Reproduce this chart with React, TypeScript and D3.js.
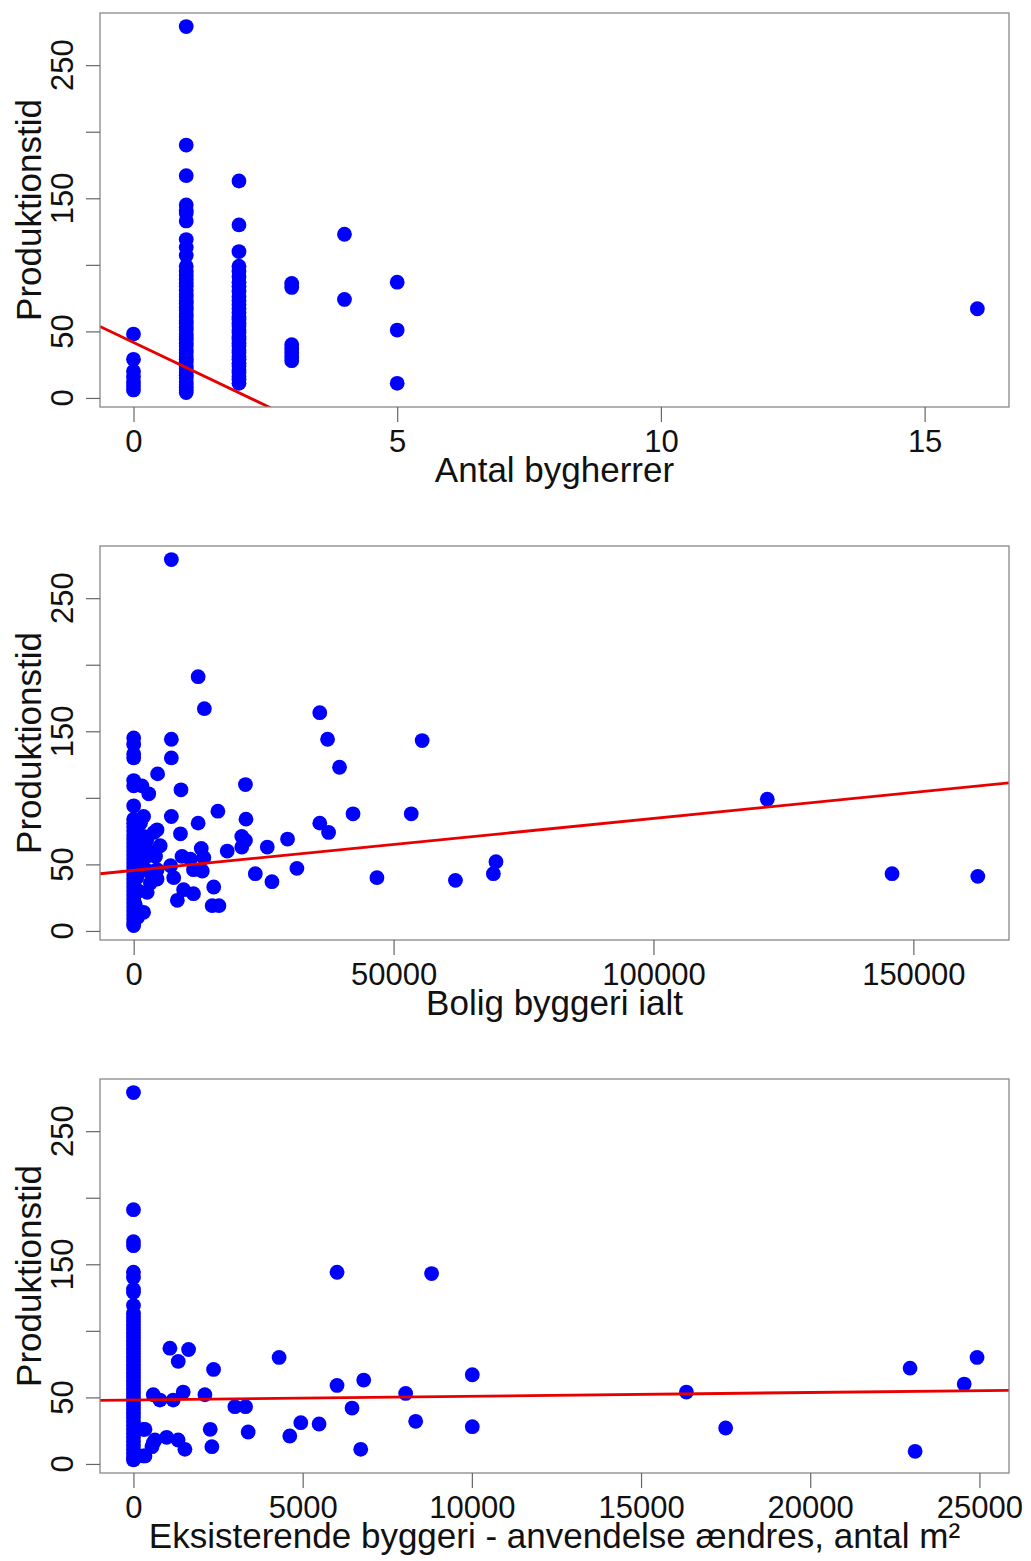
import React, { useEffect, useRef } from 'react';
import * as d3 from 'd3';

// shared y axis (Produktionstid)
const yTicks = [0, 50, 100, 150, 200, 250];
const yTickLabels = [0, 50, 150, 250];

// panel 1: Antal bygherrer
const bygX = [
  0, 0, 0, 0, 0, 0, 0,
  1, 1, 1, 1, 1, 1, 1, 1, 1, 1, 1, 1, 1, 1, 1, 1, 1, 1, 1, 1, 1, 1, 1, 1, 1, 1, 1, 1, 1, 1, 1, 1, 1, 1, 1, 1, 1, 1, 1, 1, 1, 1, 1, 1, 1, 1, 1, 1, 1,
  2, 2, 2, 2, 2, 2, 2, 2, 2, 2, 2, 2, 2, 2, 2, 2, 2, 2, 2, 2, 2, 2, 2, 2, 2, 2, 2, 2, 2, 2, 2, 2, 2, 2, 2,
  3, 3, 3, 3, 3, 3, 3,
  4, 4,
  5, 5, 5,
  16,
];
const bygY = [
  48, 29, 20, 16, 12, 9, 6,
  279, 190, 167, 145, 141, 139, 133, 119, 113, 107, 99, 95, 92, 89, 86, 84, 81, 78, 76, 73, 71, 68, 66, 63, 61, 58, 56, 53, 51, 48, 46, 44, 41, 39, 36, 34, 31, 29, 27, 24, 22, 19, 17, 15, 12, 10, 8, 6, 4,
  163, 130, 110, 99, 95, 91, 87, 84, 80, 76, 73, 70, 67, 64, 61, 59, 56, 54, 51, 49, 46, 44, 41, 39, 36, 34, 31, 29, 26, 24, 21, 19, 16, 14, 11,
  86, 83, 40, 37, 34, 31, 28,
  123, 74,
  87, 51, 11,
  67,
];

// panel 2: Bolig byggeri ialt
const boligX = [
  0, 0, 0, 0, 0, 0, 0, 0, 0, 0, 0, 0, 0, 0, 0, 0, 0, 0, 0, 0, 0, 0, 0, 0, 0, 0, 0, 0, 0, 0, 0, 0, 0, 0, 0,
  7250, 12400, 13600, 35800, 37300, 55500, 7250, 7250, 4600, 9100, 1600, 2900, 39600, 21500, 16200, 7250,
  21600, 42200, 53400, 12400, 35800, 37500, 9000, 29600, 20800, 21500, 20800, 25700, 18000, 13000, 3900,
  1900, 1300, 4500, 5100, 1900, 4200, 9300, 10900, 13500, 11500, 13200, 7100, 4500, 7700, 3200, 2600,
  9600, 11500, 8400, 15400, 15100, 16400, 1900, 23400, 4500, 31400, 26600, 46800, 61900, 69700, 69200,
  121900, 145900, 162400, 800, 1200, 600, 900, 1500, 2200, 2800, 300, 700, 3000, 2500,
];
const boligY = [
  145, 140, 133, 130, 113, 109, 94, 84, 81, 78, 75, 72, 69, 66, 63, 60, 57, 54, 51, 48, 45, 42, 39, 36, 33, 30, 27, 24, 21, 18, 15, 12, 9, 6, 4,
  279, 191, 167, 164, 144, 143, 144, 130, 118, 106, 109, 103, 123, 110, 90, 86,
  84, 88, 88, 81, 81, 74, 73, 69, 71, 68, 63, 63, 60, 62, 74,
  86, 81, 76, 64, 71, 56, 56, 54, 55, 46, 45, 49, 46, 40, 36, 29,
  31, 28, 23, 33, 19, 19, 14, 43, 39, 47, 37, 40, 38, 52, 43,
  99, 43, 41, 60, 50, 40, 30, 65, 55, 45, 20, 10, 60, 68,
];

// panel 3: Eksisterende byggeri - anvendelse ændres
const eksX = [
  0, 0, 0, 0, 0, 0, 0, 0, 0, 0, 0, 0, 0, 0, 0, 0, 0, 0, 0, 0, 0, 0, 0, 0, 0, 0, 0, 0, 0, 0, 0, 0, 0, 0, 0, 0, 0, 0, 0, 0, 0, 0, 0, 0, 0, 0, 0,
  290, 585, 980, 1320, 1520, 290, 340, 635, 546, 340, 1077, 1629, 1323, 4304, 2367, 10013, 6016, 6804,
  585, 782, 1175, 1470, 2111, 8044, 2996, 3312, 6459, 4945, 5485, 8340, 10013, 2268, 3389, 4620, 6716,
  2317, 16340, 17500, 22950, 23100, 24550, 24930, 6016, 8810,
];
const eksY = [
  279, 191, 167, 164, 144, 140, 131, 129, 119, 113, 110, 107, 104, 101, 98, 95, 92, 89, 86, 83, 80, 77, 74, 71, 68, 65, 62, 59, 56, 53, 50, 47, 44, 41, 38, 35, 32, 29, 26, 23, 20, 17, 14, 11, 8, 5, 3,
  26, 16, 20, 18, 11, 6, 26, 18, 13, 6, 87, 86, 77, 80, 71, 67, 59, 63,
  52, 48, 48, 54, 52, 53, 43, 43, 42, 31, 30, 32, 28, 26, 24, 21, 11,
  13, 54, 27, 72, 9.5, 60, 80, 144, 143,
];

const bygTicks = [0, 5, 10, 15];
const boligTicks = [0, 50000, 100000, 150000];
const eksTicks = [0, 5000, 10000, 15000, 20000, 25000];

const box = { left: 100, right: 1009, top: 13, bottom: 407 };
const yDomain = [-6.8, 289.2];
const font = 'Liberation Sans, Arial, sans-serif';

function ScatterPanel({ xs, ys, xDomain, xTicks, xTitle, fit, offset, id }) {
  const ref = useRef(null);

  useEffect(() => {
    const g = d3.select(ref.current);
    g.selectAll('*').remove();

    const x = d3.scaleLinear().domain(xDomain).range([box.left, box.right]);
    const y = d3.scaleLinear().domain(yDomain).range([box.bottom, box.top]);

    g.append('clipPath').attr('id', id)
      .append('rect')
      .attr('x', box.left).attr('y', box.top)
      .attr('width', box.right - box.left).attr('height', box.bottom - box.top);

    g.append('g')
      .selectAll('circle')
      .data(xs)
      .join('circle')
      .attr('cx', (d) => x(d))
      .attr('cy', (_, i) => y(ys[i]))
      .attr('r', 7.4)
      .attr('fill', '#0000ff');

    // regression line
    g.append('line')
      .attr('clip-path', `url(#${id})`)
      .attr('x1', x(xDomain[0])).attr('y1', y(fit.a + fit.b * xDomain[0]))
      .attr('x2', x(xDomain[1])).attr('y2', y(fit.a + fit.b * xDomain[1]))
      .attr('stroke', '#e80000')
      .attr('stroke-width', 2.8);

    g.append('rect')
      .attr('x', box.left).attr('y', box.top)
      .attr('width', box.right - box.left).attr('height', box.bottom - box.top)
      .attr('fill', 'none')
      .attr('stroke', '#888')
      .attr('stroke-width', 1.3);

    const xAxis = g.append('g')
      .attr('transform', `translate(0,${box.bottom})`)
      .call(d3.axisBottom(x).tickValues(xTicks).tickSize(15).tickPadding(8).tickFormat(d3.format('d')));
    xAxis.select('.domain').remove();
    xAxis.selectAll('line').attr('stroke', '#666').attr('stroke-width', 1.2);
    xAxis.selectAll('text').attr('font-size', 31).attr('font-family', font).attr('fill', '#111');

    const yAxis = g.append('g')
      .attr('transform', `translate(${box.left},0)`)
      .call(d3.axisLeft(y).tickValues(yTicks).tickSize(14).tickFormat(() => ''));
    yAxis.select('.domain').remove();
    yAxis.selectAll('line').attr('stroke', '#666').attr('stroke-width', 1.2);

    g.append('g')
      .selectAll('text')
      .data(yTickLabels)
      .join('text')
      .attr('transform', (d) => `translate(73,${y(d)}) rotate(-90)`)
      .attr('text-anchor', 'middle')
      .attr('font-size', 31)
      .attr('font-family', font)
      .attr('fill', '#111')
      .text((d) => d);

    g.append('text')
      .attr('transform', `translate(41,${(box.top + box.bottom) / 2}) rotate(-90)`)
      .attr('text-anchor', 'middle')
      .attr('font-size', 35)
      .attr('font-family', font)
      .attr('fill', '#111')
      .text('Produktionstid');

    g.append('text')
      .attr('x', (box.left + box.right) / 2)
      .attr('y', 482)
      .attr('text-anchor', 'middle')
      .attr('font-size', 35)
      .attr('font-family', font)
      .attr('fill', '#111')
      .text(xTitle);
  }, [xs, ys]);

  return <g ref={ref} transform={`translate(0,${offset})`} />;
}

export default function App() {
  return (
    <svg width={1031} height={1561} style={{ position: 'absolute', left: 0, top: 0, background: '#fff' }}>
      <rect width={1031} height={1561} fill="#fff" />
      <ScatterPanel id="c1" xs={bygX} ys={bygY} xDomain={[-0.635, 16.6]} xTicks={bygTicks}
        xTitle="Antal bygherrer" fit={{ a: 41.7, b: -18.9 }} offset={0} />
      <ScatterPanel id="c2" xs={boligX} ys={boligY} xDomain={[-6480, 168400]} xTicks={boligTicks}
        xTitle="Bolig byggeri ialt" fit={{ a: 45.5, b: 0.00039 }} offset={533} />
      <ScatterPanel id="c3" xs={eksX} ys={eksY} xDomain={[-989, 25874]} xTicks={eksTicks}
        xTitle="Eksisterende byggeri - anvendelse ændres, antal m²" fit={{ a: 48.1, b: 0.00028 }} offset={1066} />
    </svg>
  );
}
